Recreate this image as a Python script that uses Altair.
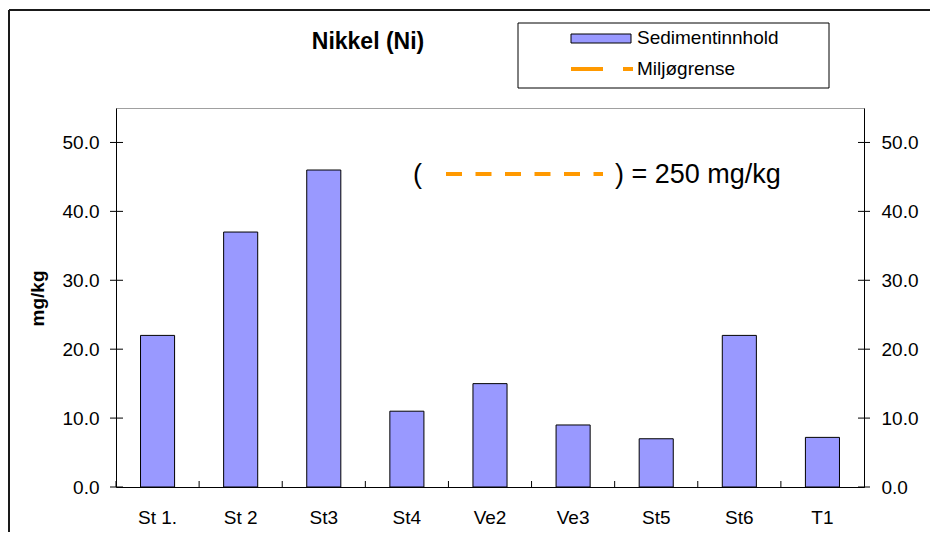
import altair as alt
import pandas as pd

# ---- data ----
stations = ["St 1.", "St 2", "St3", "St4", "Ve2", "Ve3", "St5", "St6", "T1"]
nickel = [22.0, 37.0, 46.0, 11.0, 15.0, 9.0, 7.0, 22.0, 7.2]
y_ticks = [0, 10, 20, 30, 40, 50]
title_text = "Nikkel (Ni)"
y_title = "mg/kg"
legend_labels = ["Sedimentinnhold", "Miljøgrense"]
note_open = "("
note_close = ") = 250 mg/kg"

# ---- style ----
W, H = 748, 379
BAR_FILL = "#9999FF"
ORANGE = "#FF9900"
FONT = "Liberation Sans"
P_IN = 0.59
P_OUT = P_IN / 2
STEP = W / len(stations)

df = pd.DataFrame({"station": stations, "value": nickel})
ticks_df = pd.DataFrame({"value": y_ticks})

xscale = alt.Scale(domain=stations, paddingInner=P_IN, paddingOuter=P_OUT)
yscale = alt.Scale(domain=[0, 55], nice=False, zero=True)

bars = alt.Chart(df).mark_bar(fill=BAR_FILL, stroke="black", strokeWidth=1).encode(
    x=alt.X("station:N", scale=xscale,
            axis=alt.Axis(orient="bottom", title=None, labelAngle=0, ticks=False, tickSize=0,
                          labelPadding=21, labelFontSize=19, labelColor="black",
                          domainColor="black", domainWidth=1)),
    y=alt.Y("value:Q", scale=yscale,
            axis=alt.Axis(orient="left", values=y_ticks, format=".1f", ticks=False, tickSize=0,
                          labelPadding=17, labelFontSize=19, labelColor="black", grid=False,
                          domainColor="black", title=y_title, titleFontWeight="bold",
                          titleFontSize=19, titleColor="black", titleAngle=270, titleX=-79,
                          titleY=190, titleAlign="center", titleBaseline="middle")),
)

# category-boundary ticks pointing into the plot
xticks = alt.Chart(df).mark_rule(color="black", strokeWidth=1, xOffset=-P_OUT * STEP).encode(
    x=alt.X("station:N", scale=xscale, bandPosition=0, axis=None),
    y=alt.value(H - 6), y2=alt.value(H),
)

lticks = alt.Chart(ticks_df).mark_rule(color="black", strokeWidth=1).encode(
    y=alt.Y("value:Q", scale=yscale, axis=None),
    x=alt.value(-6), x2=alt.value(7),
)

rticks = alt.Chart(ticks_df).mark_rule(color="black", strokeWidth=1).encode(
    y=alt.Y("value:Q", scale=yscale,
            axis=alt.Axis(orient="right", values=y_ticks, format=".1f", ticks=False, tickSize=0,
                          labelPadding=17, labelFontSize=19, labelColor="black", grid=False,
                          domainColor="black", title=None)),
    x=alt.value(W - 6), x2=alt.value(W + 6),
)

# outer chart border (top and left visible)
border_top = alt.Chart().mark_rule(color="#1a1a1a", strokeWidth=2).encode(
    x=alt.value(-107), x2=alt.value(830), y=alt.value(-98))
border_left = alt.Chart().mark_rule(color="#1a1a1a", strokeWidth=2).encode(
    x=alt.value(-107), y=alt.value(-98), y2=alt.value(480))

title = alt.Chart().mark_text(text=title_text, fontSize=23, fontWeight="bold", align="center",
                              baseline="middle", color="black").encode(
    x=alt.value(252), y=alt.value(-66))

# legend box
leg_box = alt.Chart().mark_rect(fill="white", stroke="black", strokeWidth=1).encode(
    x=alt.value(402), x2=alt.value(713), y=alt.value(-85), y2=alt.value(-20))
leg_sym1 = alt.Chart().mark_rect(fill=BAR_FILL, stroke="black", strokeWidth=1).encode(
    x=alt.value(455), x2=alt.value(515), y=alt.value(-74), y2=alt.value(-65))
leg_txt1 = alt.Chart().mark_text(text=legend_labels[0], fontSize=19, align="left",
                                 baseline="middle", color="black").encode(
    x=alt.value(521), y=alt.value(-70))
leg_sym2 = alt.Chart().mark_rule(color=ORANGE, strokeWidth=4, strokeDash=[32, 20]).encode(
    x=alt.value(455), x2=alt.value(517), y=alt.value(-39))
leg_txt2 = alt.Chart().mark_text(text=legend_labels[1], fontSize=19, align="left",
                                 baseline="middle", color="black").encode(
    x=alt.value(521), y=alt.value(-39))

# annotation
note_line = alt.Chart().mark_rule(color=ORANGE, strokeWidth=4, strokeDash=[16, 13.5]).encode(
    x=alt.value(330), x2=alt.value(487), y=alt.value(66))
note_a = alt.Chart().mark_text(text=note_open, fontSize=27, align="left", baseline="middle",
                               color="black").encode(x=alt.value(297), y=alt.value(67))
note_b = alt.Chart().mark_text(text=note_close, fontSize=27, align="left", baseline="middle",
                               color="black").encode(x=alt.value(499), y=alt.value(67))

chart = alt.layer(
    border_top, border_left, title, leg_box, leg_sym1, leg_txt1, leg_sym2, leg_txt2,
    bars, xticks, lticks, rticks, note_line, note_a, note_b,
).resolve_axis(x="independent", y="independent").properties(
    width=W, height=H,
    padding={"left": 108, "top": 100, "right": 66, "bottom": 45},
    autosize=alt.AutoSizeParams(type="none"),
    background="white",
).configure_view(stroke="#a0a0a0", strokeWidth=1).configure_axis(
    labelFont=FONT, titleFont=FONT
).configure_text(font=FONT)

chart.save("out.html", embed_options={"renderer": "svg", "actions": False})
